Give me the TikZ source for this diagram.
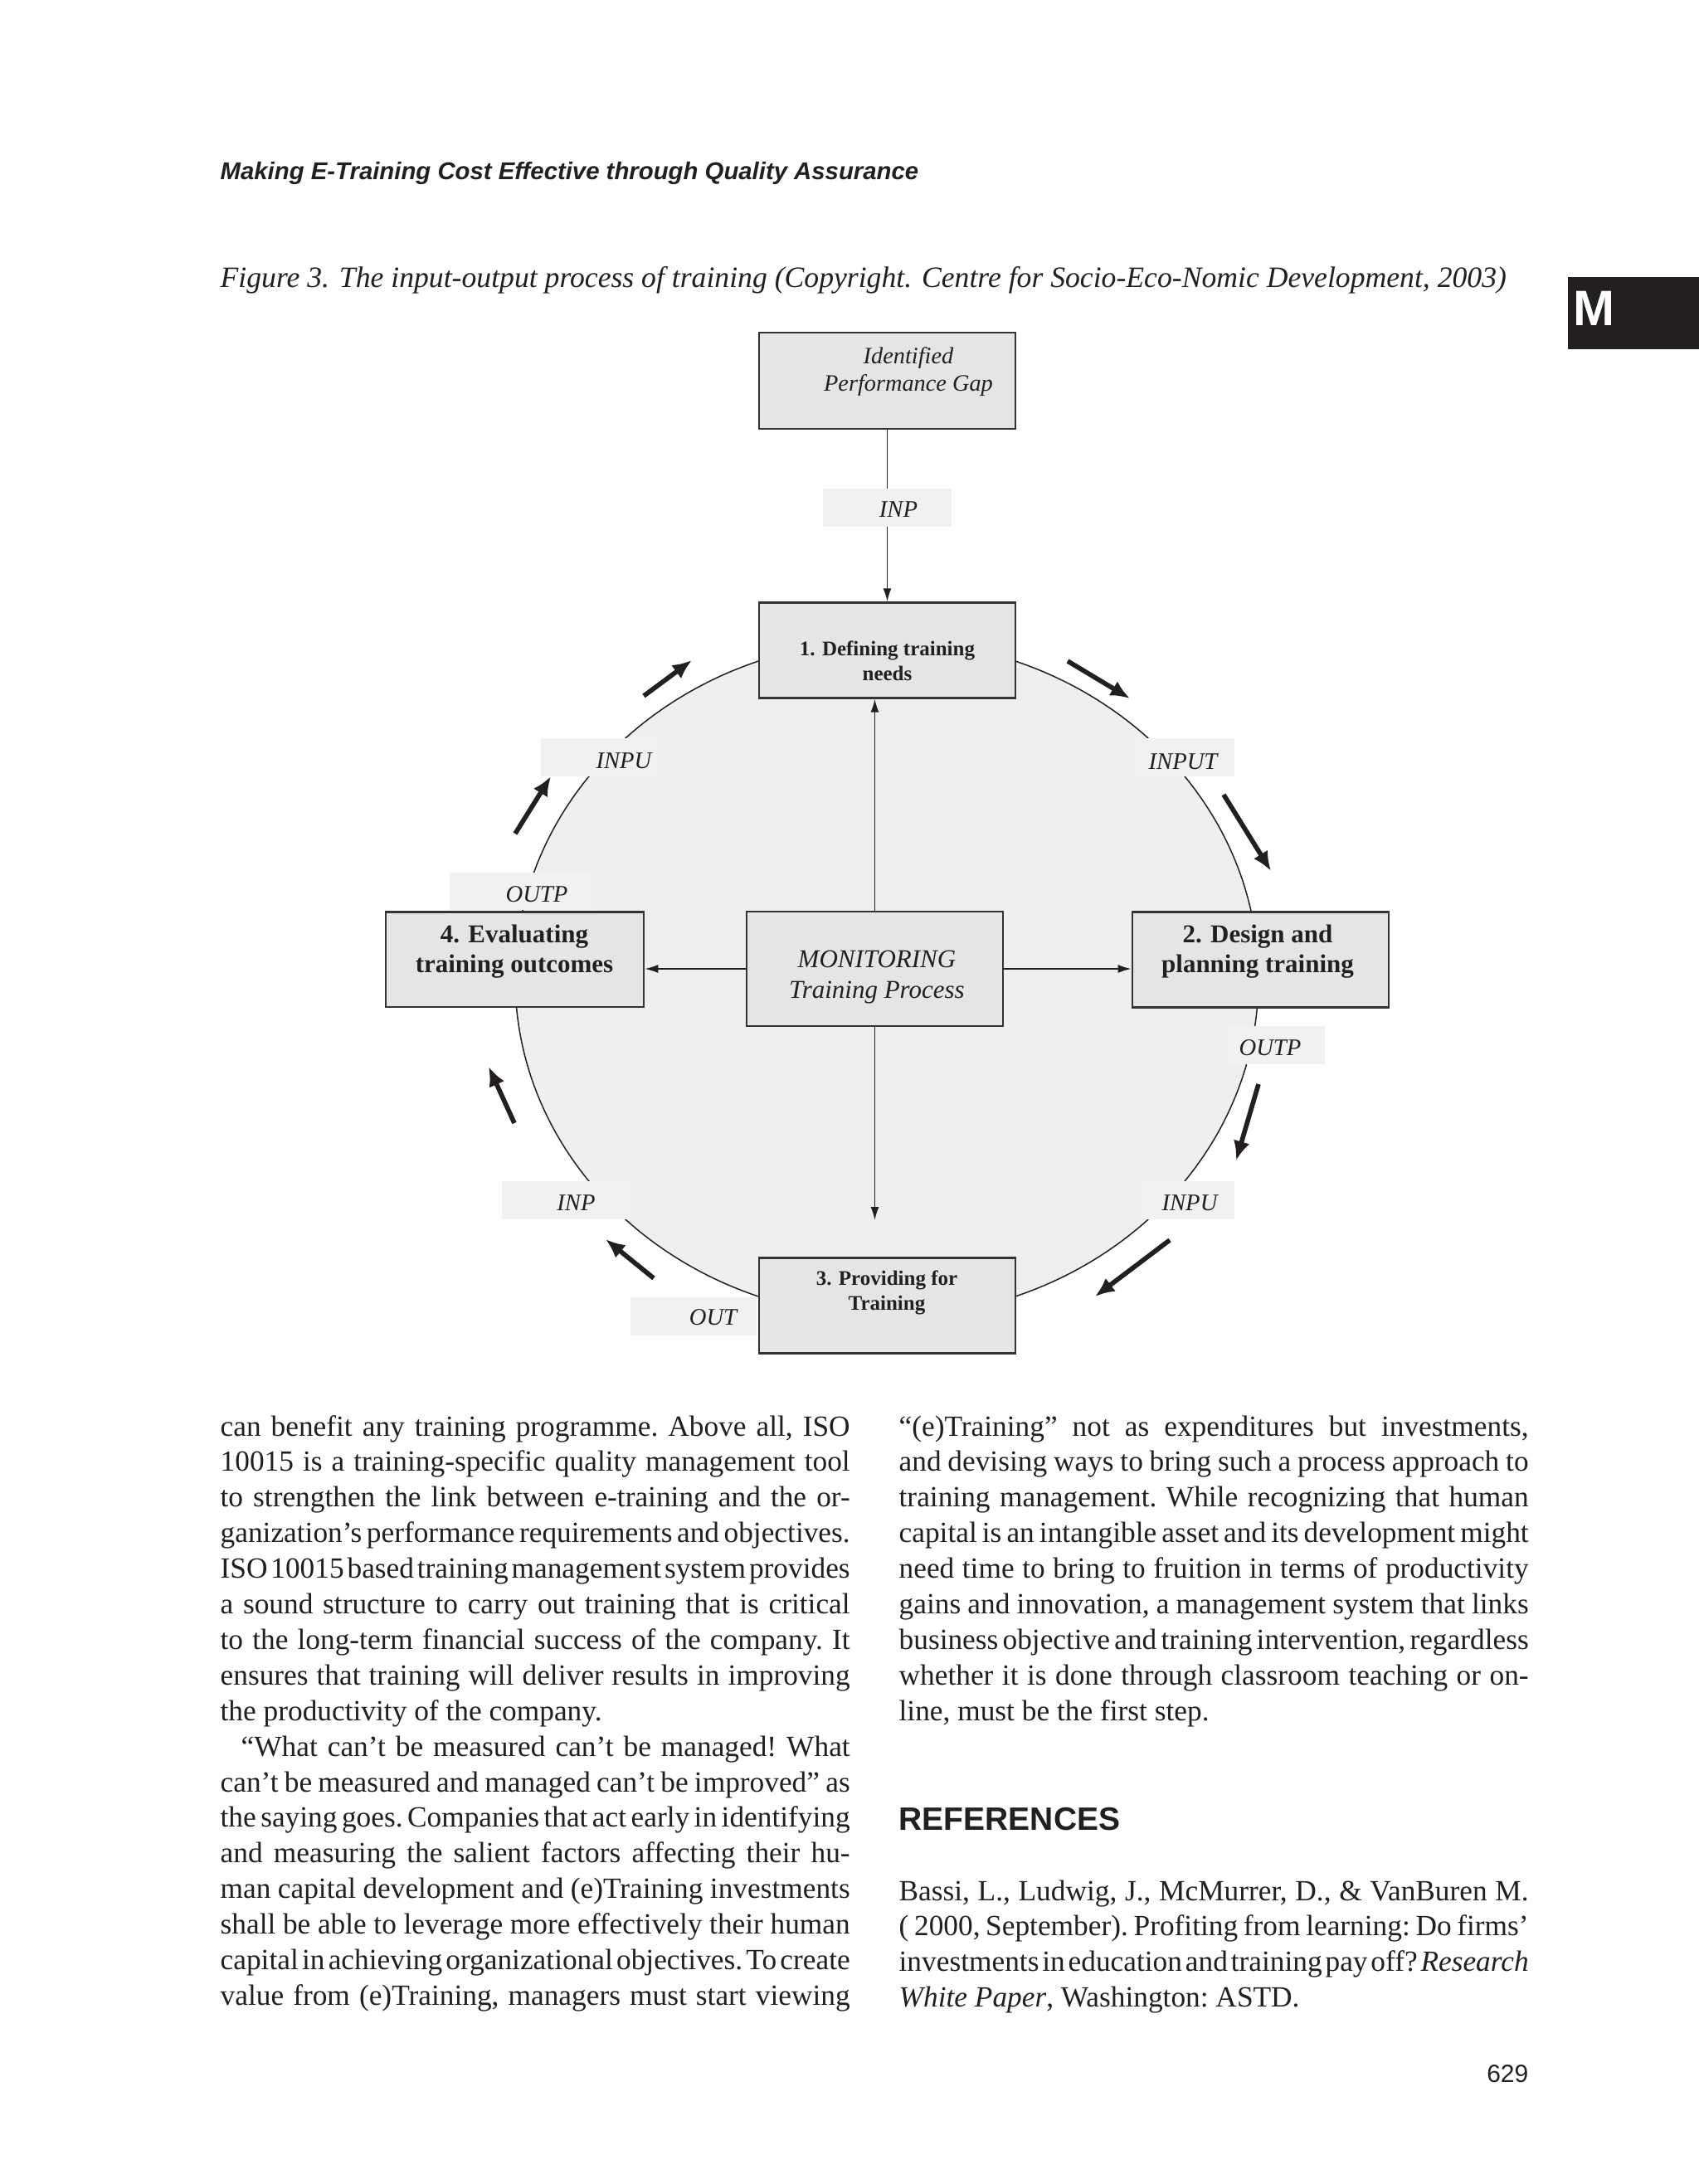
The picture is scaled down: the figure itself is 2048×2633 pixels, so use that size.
\documentclass[tikz,border=0pt]{standalone}
\usepackage{fontspec}
\setmainfont{Liberation Serif}[Ligatures=TeX]
\setsansfont{Liberation Sans}
\usepackage{tikz}
\usetikzlibrary{arrows.meta,positioning,calc}
\definecolor{ink}{HTML}{231F20}
\definecolor{edge}{HTML}{333333}
\definecolor{boxfill}{HTML}{E5E5E5}
\definecolor{ringfill}{HTML}{EFEFEF}
\definecolor{tagfill}{HTML}{F1F1F1}
\definecolor{mtab}{HTML}{231F20}
\newlength{\colw}
\setlength{\colw}{227.7pt}
\newcommand{\jl}[1]{\hbox to\hsize{#1}}
\newcommand{\lastl}[1]{\hbox{#1}}
\newcommand{\bodyblock}[1]{\vtop{\hsize=\colw\parindent=0pt\frenchspacing
  \baselineskip=12.87pt\spaceskip=0.25em plus 0.6em minus 0.16em\relax #1}}
\tikzset{
  stage/.style={draw=edge,line width=0.8pt,fill=boxfill,inner sep=0pt,minimum width=92.7pt,minimum height=34.4pt},
  stagetxt/.style={align=center,inner sep=0pt,text=ink},
  smalltxt/.style={stagetxt,font=\fontsize{7.5}{9}\selectfont\bfseries},
  bigtxt/.style={stagetxt,font=\fontsize{9.3}{11}\selectfont\bfseries},
  tagbox/.style={fill=tagfill,inner sep=0pt,minimum height=13.8pt},
  tagtxt/.style={font=\fontsize{8.6}{10}\selectfont\itshape,inner sep=0pt,text=ink},
  thinar/.style={-{Latex[length=4.8pt,width=3pt]},line width=0.5pt,draw=ink},
  flowar/.style={-{Latex[length=7pt,width=6pt]},line width=1.7pt,draw=ink},
  textline/.style={anchor=base west,inner sep=0pt,text=ink},
}
\begin{document}
\begin{tikzpicture}[x=0.3pt,y=-0.3pt]
\useasboundingbox (0,0) rectangle (2048,2633);
\fill[white] (0,0) rectangle (2048,2633);

\node[textline,font=\fontsize{8.8}{10}\selectfont\sffamily\bfseries\itshape] (runhead) at (265,216) {Making E-Training Cost Effective through Quality Assurance};
\node[textline,font=\fontsize{10.7}{12}\selectfont\itshape] (caption) at (265,346) {Figure 3. The input-output process of training (Copyright. Centre for Socio-Eco-Nomic Development, 2003)};
\node[fill=mtab,minimum width=47.7pt,minimum height=26.1pt,inner sep=0pt,anchor=north west] (tab) at (1889,333) {};
\node[anchor=base west,inner sep=0pt,font=\fontsize{18}{20}\selectfont\sffamily\bfseries,text=white] (tabletter) at (1896,392) {M};

\draw[line width=0.45pt,draw=ink,fill=ringfill] (1069,1180) ellipse [x radius=134.4pt,y radius=122.4pt];

\node[stage,minimum height=34.8pt] (gap) at (1069.5,459) {};
\node[stagetxt,font=\fontsize{8.5}{10}\selectfont\itshape] (gaptxt) at (1095,448) {Identified\\Performance Gap};
\node[stage] (def) at (1069.5,784) {};
\node[smalltxt] (deftxt) at (1069.5,797) {1. Defining training\\needs};
\node[stage] (plan) at (1519.5,1157) {};
\node[bigtxt] (plantxt) at (1516,1147) {2. Design and\\planning training};
\node[stage,minimum height=34.5pt] (prov) at (1069.5,1574) {};
\node[smalltxt] (provtxt) at (1069,1558) {3. Providing for\\Training};
\node[stage,minimum width=93.3pt] (eval) at (620.5,1156.5) {};
\node[bigtxt] (evaltxt) at (620,1147) {4. Evaluating\\training outcomes};
\node[stage,minimum height=41.4pt] (mon) at (1054.5,1168) {};
\node[stagetxt,font=\fontsize{9.3}{11}\selectfont\itshape] (montxt) at (1057,1178) {MONITORING\\Training Process};
\coordinate (mondown) at (1054.5,1471);

\draw[thinar] (gap.south) -- (def.north);
\draw[thinar] (mon.north) -- (mon.north |- def.south);
\draw[thinar] (mon.west) -- (mon.west -| eval.east);
\draw[thinar] (mon.east) -- (mon.east -| plan.west);
\draw[thinar] (mon.south) -- (mondown);

\node[tagbox,minimum width=46.5pt] (tagtop) at (1069.5,611.5) {};
\node[tagtxt] (tagtoptxt) at (1083,614) {INP};
\node[tagbox,minimum width=42pt] (tagnw) at (722,912.5) {};
\node[tagtxt] (tagnwtxt) at (752,917) {INPU};
\node[tagbox,minimum width=35.4pt] (tagne) at (1429,912.5) {};
\node[tagtxt] (tagnetxt) at (1426,918) {INPUT};
\node[tagbox,minimum width=51.3pt,minimum height=13.5pt] (tagw) at (627.5,1074.5) {};
\node[tagtxt] (tagwtxt) at (647,1078) {OUTP};
\node[tagbox,minimum width=35.1pt] (tage) at (1538.5,1260) {};
\node[tagtxt] (tagetxt) at (1531,1263) {OUTP};
\node[tagbox,minimum width=45.9pt] (tagsw) at (681.5,1446.5) {};
\node[tagtxt] (tagswtxt) at (694.5,1450) {INP};
\node[tagbox,minimum width=33.9pt] (tagse) at (1431.5,1447) {};
\node[tagtxt] (tagsetxt) at (1434,1450) {INPU};
\node[tagbox,minimum width=45.6pt] (tags) at (836,1586.5) {};
\node[tagtxt] (tagstxt) at (859.5,1588) {OUT};

\draw[flowar] (776,839) -- (834,796);
\draw[flowar] (1287,797) -- (1362,842);
\draw[flowar] (621,1005) -- (664,936);
\draw[flowar] (1475,958) -- (1532,1050);
\draw[flowar] (1517,1307) -- (1490,1399);
\draw[flowar] (1410,1495) -- (1320,1563);
\draw[flowar] (788,1541) -- (730,1494);
\draw[flowar] (620,1354) -- (589,1286);

\node[textline,font=\fontsize{10.6}{12.87}\selectfont] (leftcol) at (265,1731) {\bodyblock{%
\jl{can benefit any training programme. Above all, ISO}
\jl{10015 is a training-specific quality management tool}
\jl{to strengthen the link between e-training and the or-}
\jl{ganization’s performance requirements and objectives.}
\jl{ISO 10015 based training management system provides}
\jl{a sound structure to carry out training that is critical}
\jl{to the long-term financial success of the company. It}
\jl{ensures that training will deliver results in improving}
\lastl{the productivity of the company.}
\jl{\hskip7.5pt “What can’t be measured can’t be managed! What}
\jl{can’t be measured and managed can’t be improved” as}
\jl{the saying goes. Companies that act early in identifying}
\jl{and measuring the salient factors affecting their hu-}
\jl{man capital development and (e)Training investments}
\jl{shall be able to leverage more effectively their human}
\jl{capital in achieving organizational objectives. To create}
\jl{value from (e)Training, managers must start viewing}}};

\node[textline,font=\fontsize{10.6}{12.87}\selectfont] (rightcol) at (1083,1731) {\bodyblock{%
\jl{“(e)Training” not as expenditures but investments,}
\jl{and devising ways to bring such a process approach to}
\jl{training management. While recognizing that human}
\jl{capital is an intangible asset and its development might}
\jl{need time to bring to fruition in terms of productivity}
\jl{gains and innovation, a management system that links}
\jl{business objective and training intervention, regardless}
\jl{whether it is done through classroom teaching or on-}
\lastl{line, must be the first step.}}};

\node[textline,font=\fontsize{11.7}{14}\selectfont\sffamily\bfseries] (refhead) at (1083,2206) {REFERENCES};
\node[textline,font=\fontsize{10.6}{12.87}\selectfont] (refbody) at (1083,2291) {\bodyblock{%
\jl{Bassi, L., Ludwig, J., McMurrer, D., \& VanBuren M.}
\jl{( 2000, September). Profiting from learning: Do firms’}
\jl{investments in education and training pay off? \textit{Research}}
\lastl{\textit{White Paper}, Washington: ASTD.}}};

\node[anchor=base east,inner sep=0pt,font=\fontsize{9}{10}\selectfont\sffamily,text=ink] (pageno) at (1843,2510) {629};
\end{tikzpicture}
\end{document}
